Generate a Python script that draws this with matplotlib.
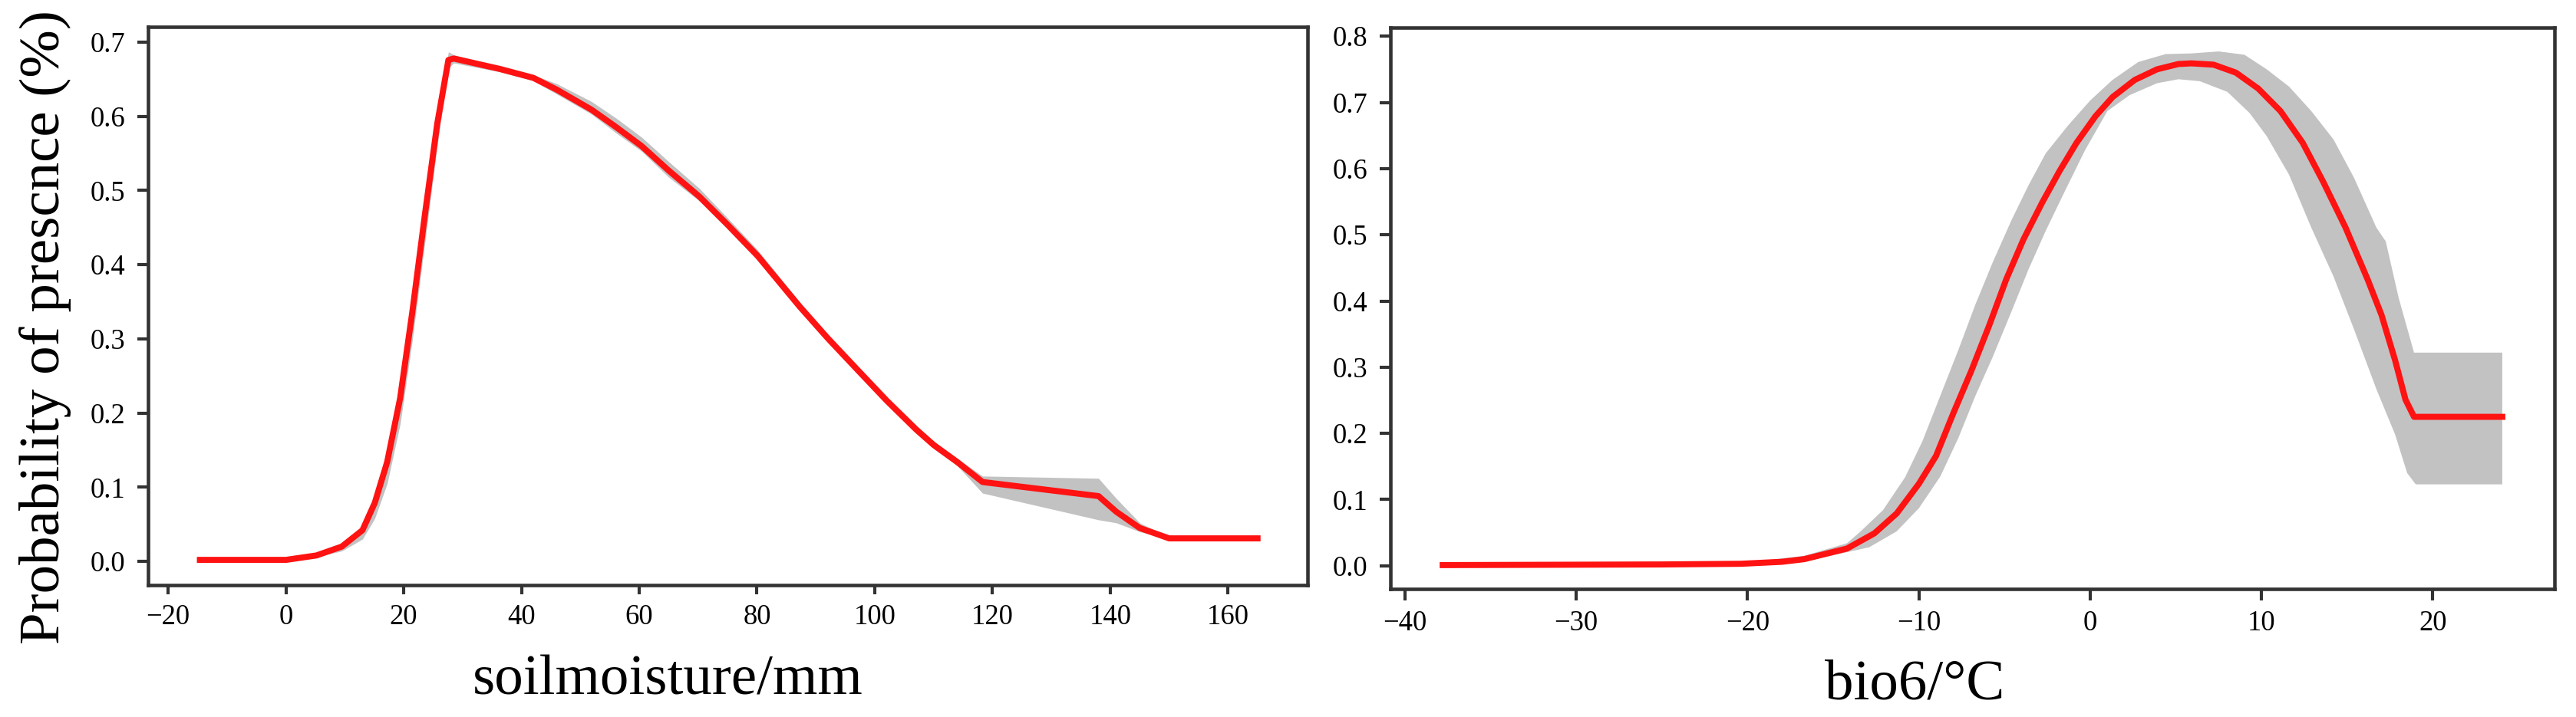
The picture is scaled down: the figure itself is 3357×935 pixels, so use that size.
import numpy as np
import matplotlib.pyplot as plt

# soil moisture response curve
soil_x = [-14.6, 0, 5.2, 9.5, 13, 15.1, 17.2, 19.4, 21.5, 23.6, 25.7, 27.6, 28.5,
          36.3, 42, 46, 51.9, 56, 60.4, 65, 70.2, 75, 80.1, 87.2, 92, 97.1, 102,
          107, 110, 114, 118.3, 138, 141, 145, 150, 165]
soil_mean = [0.002, 0.002, 0.008, 0.020, 0.042, 0.079, 0.134, 0.220, 0.338, 0.467,
             0.590, 0.676, 0.678, 0.664, 0.652, 0.636, 0.609, 0.586, 0.560, 0.527,
             0.492, 0.454, 0.412, 0.344, 0.301, 0.258, 0.217, 0.178, 0.157, 0.134,
             0.107, 0.088, 0.067, 0.045, 0.031, 0.031]
soil_hi = [0.003, 0.003, 0.009, 0.021, 0.044, 0.082, 0.140, 0.228, 0.345, 0.475,
           0.598, 0.687, 0.683, 0.667, 0.656, 0.644, 0.620, 0.598, 0.572, 0.539,
           0.503, 0.463, 0.420, 0.350, 0.306, 0.263, 0.222, 0.184, 0.162, 0.139,
           0.115, 0.112, 0.085, 0.052, 0.032, 0.032]
soil_lo = [0.001, 0.001, 0.006, 0.014, 0.030, 0.058, 0.105, 0.185, 0.300, 0.430,
           0.560, 0.665, 0.672, 0.660, 0.648, 0.630, 0.603, 0.578, 0.553, 0.518,
           0.486, 0.448, 0.406, 0.338, 0.296, 0.253, 0.212, 0.173, 0.152, 0.129,
           0.092, 0.056, 0.052, 0.040, 0.030, 0.030]

# bio6 response curve
bio_x = [-37.8, -25, -20.4, -18, -16.7, -14.2, -12.6, -11.3, -10.0, -9.0, -8.0,
         -6.95, -5.9, -4.9, -3.9, -2.8, -1.8, -0.8, 0.3, 1.3, 2.6, 3.9, 5.15, 5.9,
         7.2, 8.5, 9.8, 11.1, 12.4, 13.6, 14.9, 16.2, 17.0, 17.8, 18.4, 18.9, 24.05]
bio_mean = [0.001, 0.002, 0.003, 0.006, 0.010, 0.026, 0.049, 0.079, 0.124, 0.166,
            0.230, 0.294, 0.363, 0.433, 0.493, 0.549, 0.596, 0.639, 0.679, 0.708,
            0.734, 0.750, 0.758, 0.759, 0.757, 0.745, 0.721, 0.687, 0.639, 0.580,
            0.511, 0.432, 0.379, 0.310, 0.251, 0.225, 0.225]

# ribbon edges (each edge read with its own x positions)
bio_hi_x = [-37.8, -20.4, -16.7, -14.2, -13.4, -12.1, -10.8, -9.8, -8.75, -7.7,
            -6.7, -5.7, -4.6, -3.6, -2.6, -1.3, 0.0, 1.3, 2.8, 4.4, 5.9, 7.5, 9.0,
            10.3, 11.6, 12.9, 14.2, 15.4, 16.7, 17.25, 18.0, 18.9, 24.05]
bio_hi = [0.001, 0.004, 0.015, 0.034, 0.052, 0.084, 0.134, 0.188, 0.257, 0.326,
          0.395, 0.458, 0.522, 0.575, 0.623, 0.665, 0.703, 0.734, 0.761, 0.773,
          0.774, 0.777, 0.772, 0.750, 0.724, 0.687, 0.644, 0.586, 0.511, 0.490,
          0.405, 0.322, 0.322]
bio_lo_x = [-37.8, -20.4, -16.7, -12.9, -11.3, -10.0, -8.75, -7.7, -6.7, -5.7,
            -4.6, -3.6, -2.6, -1.5, -0.3, 1.0, 2.3, 3.9, 5.15, 6.4, 8.0, 9.3, 10.3,
            11.6, 12.9, 14.2, 15.4, 16.7, 17.8, 18.5, 19.0, 24.05]
bio_lo = [0.000, 0.002, 0.006, 0.028, 0.052, 0.087, 0.135, 0.193, 0.257, 0.315,
          0.384, 0.448, 0.506, 0.565, 0.628, 0.687, 0.711, 0.729, 0.735, 0.732,
          0.716, 0.684, 0.649, 0.591, 0.511, 0.437, 0.357, 0.267, 0.198, 0.140,
          0.123, 0.123]

soil_xticks = np.arange(-20, 161, 20)
soil_yticks = np.arange(0, 0.71, 0.1)
bio_xticks = np.arange(-40, 21, 10)
bio_yticks = np.arange(0, 0.81, 0.1)

plt.rcParams['font.family'] = 'Liberation Serif'
plt.rcParams['axes.unicode_minus'] = True

fig = plt.figure(figsize=(3357 / 300, 935 / 300), dpi=300)
ax1 = fig.add_axes([193 / 3357, 1 - 763 / 935, 1511 / 3357, 728 / 935])
ax2 = fig.add_axes([1812 / 3357, 1 - 768 / 935, 1517 / 3357, 732 / 935])

band_col = '#c2c2c2'
line_col = '#ff1212'
spine_col = '#333333'

ax1.fill_between(soil_x, soil_lo, soil_hi, color=band_col, linewidth=0)
ax1.plot(soil_x, soil_mean, color=line_col, linewidth=1.9)

ax2.fill(np.r_[bio_hi_x, bio_lo_x[::-1]], np.r_[bio_hi, bio_lo[::-1]],
         color=band_col, linewidth=0)
ax2.plot(bio_x, bio_mean, color=line_col, linewidth=1.9)

for ax in (ax1, ax2):
    for s in ax.spines.values():
        s.set_color(spine_col)
        s.set_linewidth(1.1)
    ax.tick_params(axis='both', colors=spine_col, labelcolor='black',
                   labelsize=8.8, width=1.0)
    ax.tick_params(axis='y', length=3.4, pad=3.8)
    ax.tick_params(axis='x', length=2.9, pad=3.1)

ax1.set_xlim(-23.4, 173.5)
ax1.set_ylim(-0.032, 0.7207)
ax1.set_xticks(soil_xticks)
ax1.set_yticks(soil_yticks)
ax1.set_yticklabels([f'{v:.1f}' for v in soil_yticks])

ax2.set_xlim(-40.85, 27.1)
ax2.set_ylim(-0.035, 0.813)
ax2.set_xticks(bio_xticks)
ax2.set_yticks(bio_yticks)
ax2.set_yticklabels([f'{v:.1f}' for v in bio_yticks])
ax2.tick_params(axis='x', length=3.6)

ax1.set_xlabel('soilmoisture/mm', fontsize=18)
ax1.xaxis.set_label_coords(0.448, -0.125)
ax2.set_xlabel('bio6/°C', fontsize=18)
ax2.xaxis.set_label_coords(0.450, -0.125)

fig.text(59.5 / 3357, 1 - 427 / 935, 'Probability of prescnce (%)', fontsize=18,
         rotation=90, ha='center', va='center')

fig.savefig('out.png', dpi=300)
